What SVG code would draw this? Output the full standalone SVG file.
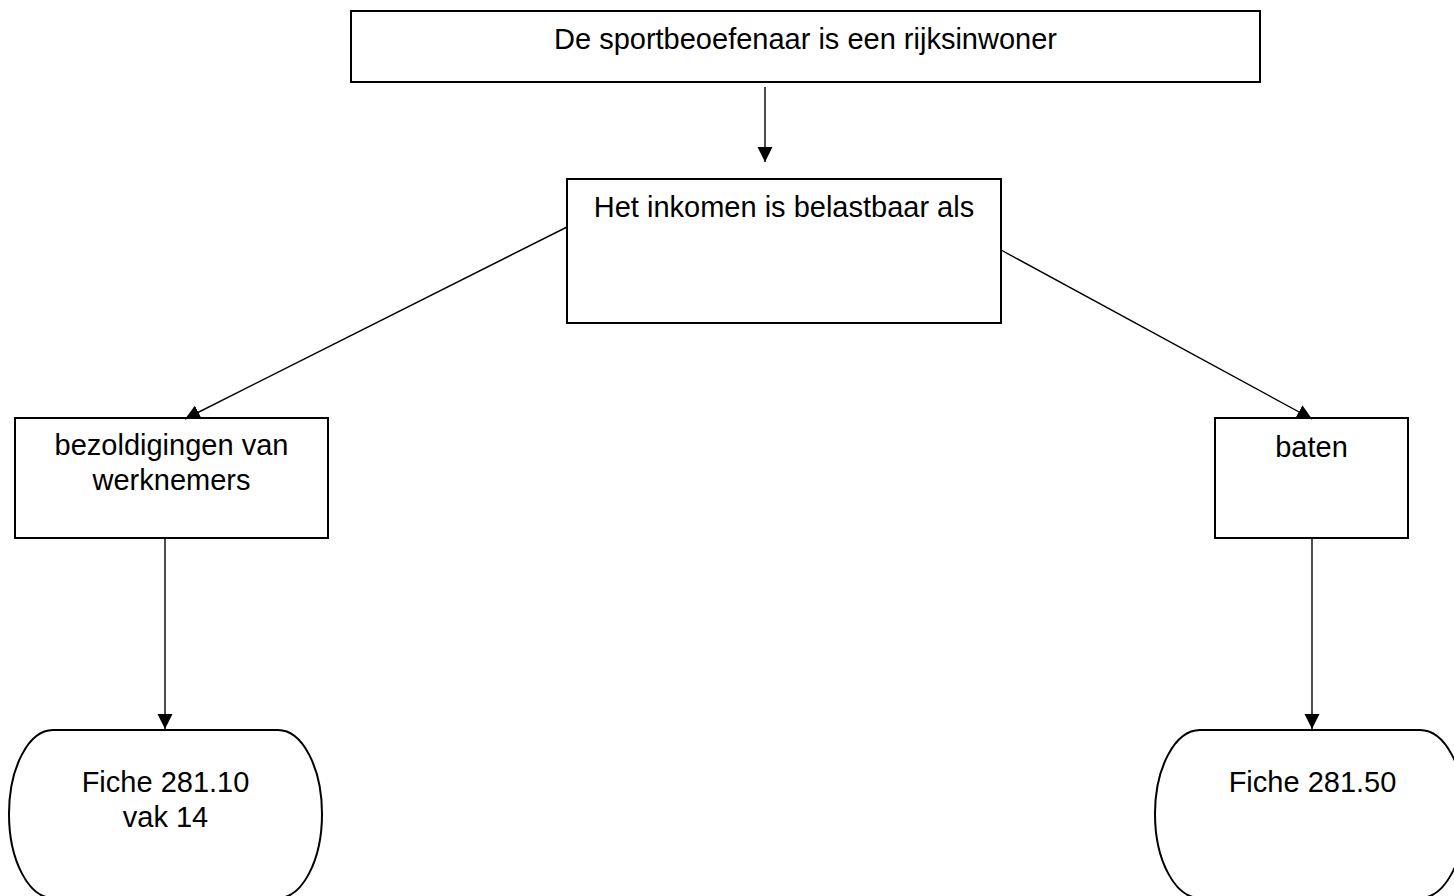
<svg xmlns="http://www.w3.org/2000/svg" width="1454" height="896" viewBox="0 0 1454 896">
<style>
.box{fill:#fff;stroke:#000;stroke-width:2}
.lbl{font-family:"Liberation Sans",Arial,sans-serif;font-size:29px;fill:#000;text-anchor:middle}
.con{stroke:#000;stroke-width:1.4;fill:none;marker-end:url(#ah)}
</style>
<defs>
<marker id="ah" markerUnits="userSpaceOnUse" markerWidth="16" markerHeight="16" viewBox="0 0 16 16" refX="15" refY="8" orient="auto">
<path d="M0,0.5 L15,8 L0,15.5 Z" fill="#000"/>
</marker>
</defs>
<rect width="1454" height="896" fill="#fff"/>
<g id="n-top">
<rect class="box" x="351" y="11" width="909" height="71"/>
<text class="lbl" x="805.5" y="49">De sportbeoefenaar is een rijksinwoner</text>
</g>
<g id="n-mid">
<rect class="box" x="567" y="179" width="434" height="144"/>
<text class="lbl" x="784" y="217">Het inkomen is belastbaar als</text>
</g>
<g id="n-left">
<rect class="box" x="15" y="418" width="313" height="120"/>
<text class="lbl" x="171.5" y="455">bezoldigingen van</text>
<text class="lbl" x="171.5" y="490">werknemers</text>
</g>
<g id="n-right">
<rect class="box" x="1215" y="418" width="193" height="120"/>
<text class="lbl" x="1311.5" y="457">baten</text>
</g>
<g id="n-fiche1">
<rect class="box" x="9" y="730" width="313" height="168" rx="44" ry="84"/>
<text class="lbl" x="165.5" y="792">Fiche 281.10</text>
<text class="lbl" x="165.5" y="827">vak 14</text>
</g>
<g id="n-fiche2">
<rect class="box" x="1155" y="730" width="310" height="168" rx="45" ry="84"/>
<text class="lbl" x="1312.5" y="792">Fiche 281.50</text>
</g>
<g id="connectors">
<line class="con" x1="765" y1="87" x2="765" y2="162"/>
<line class="con" x1="567" y1="227" x2="185" y2="419"/>
<line class="con" x1="1001" y1="250" x2="1312" y2="419"/>
<line class="con" x1="165" y1="538" x2="165" y2="729"/>
<line class="con" x1="1312" y1="538" x2="1312" y2="729"/>
</g>
</svg>
